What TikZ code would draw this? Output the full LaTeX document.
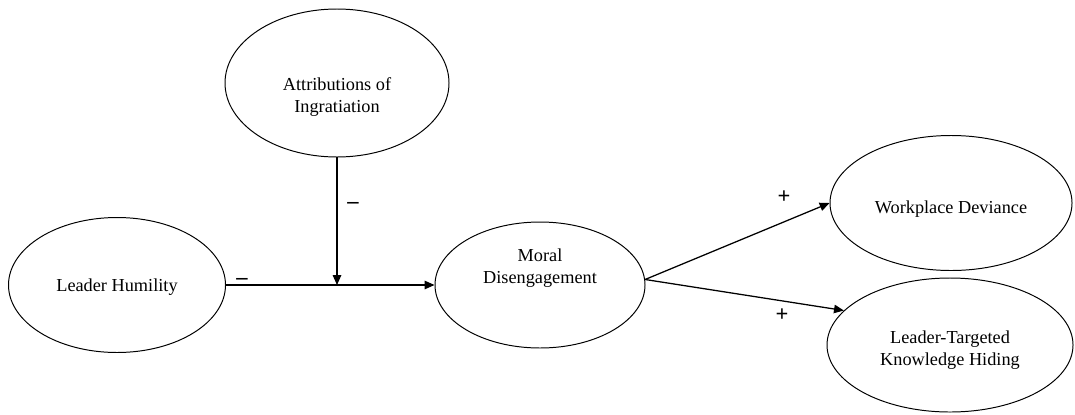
\documentclass[tikz,border=0pt]{standalone}
\usepackage{fontspec}
\setmainfont{Liberation Serif}
\usetikzlibrary{shapes.geometric}
\usetikzlibrary{arrows.meta}
\newcommand{\pxunit}{0.025cm}

\begin{document}
\begin{tikzpicture}
[x=\pxunit, y=-\pxunit,
  lineDecorate/.style={-{Triangle[length=7pt,width=6pt]},line width=0.9pt},
  nodeDecorate/.style={shape=ellipse,inner sep=0pt,draw,line width=0.7pt},
  textDecorate/.style={align=center,font=\fontsize{13pt}{15.5pt}\selectfont},
  signDecorate/.style={inner sep=0pt,font=\fontsize{16pt}{18pt}\selectfont\bfseries}]
\useasboundingbox (0,0) rectangle (1075,414);
%% latent variables
\foreach \nodename/\x/\y/\w/\h/\ty/\nodetext in {
  lh/117/285/217/135/287/{Leader Humility},
  ai/337/83/224/148/97/{Attributions of\\Ingratiation},
  md/540/285/210/126/268/{Moral\\Disengagement},
  wd/951/203/242/135/209/{Workplace Deviance},
  kh/950/345/246/134/350/{Leader-Targeted\\Knowledge Hiding}}
{
  \node (\nodename) at (\x,\y) [nodeDecorate,minimum width=\w*\pxunit,minimum height=\h*\pxunit] {};
  \node (\nodename-text) at (\x,\ty) [textDecorate] {\nodetext};
}
%% paths
\coordinate (mod) at (ai.south |- lh.east);
\draw[lineDecorate] (lh.east) -- (md.west);
\draw[lineDecorate] (ai.south) -- (mod);
\draw[lineDecorate] (md.3) -- (wd.west);
\draw[lineDecorate] (md.3) -- (kh.162);
%% signs
\foreach \signname/\x/\y/\sign in {
  lhsign/242/281/{--}, aisign/353/205/{--},
  wdsign/784/197/{+}, khsign/782/315/{+}}
{
  \node (\signname) at (\x,\y) [signDecorate] {\sign};
}
\end{tikzpicture}
\end{document}
